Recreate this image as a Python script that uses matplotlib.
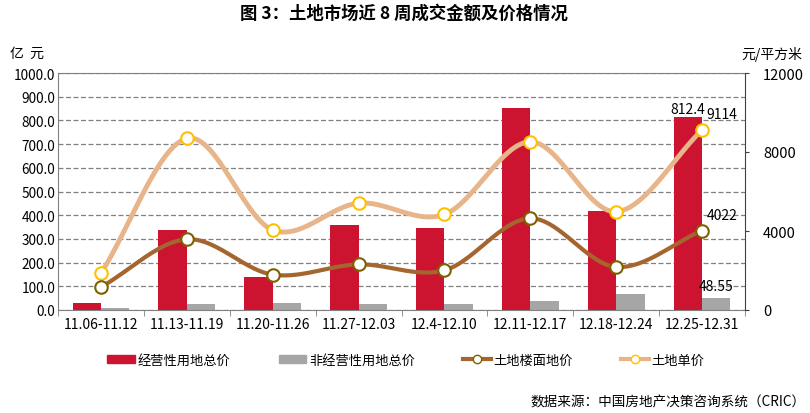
import numpy as np
import matplotlib
matplotlib.use("Agg")
import matplotlib.pyplot as plt
from matplotlib.lines import Line2D
from matplotlib.patches import Patch

plt.rcParams['font.family'] = ['Noto Sans CJK SC', 'DejaVu Sans']

weeks = ['11.06-11.12', '11.13-11.19', '11.20-11.26', '11.27-12.03',
         '12.4-12.10', '12.11-12.17', '12.18-12.24', '12.25-12.31']
# 亿元
commercial_total = [28, 336, 138, 359, 347, 854, 418, 812.4]
noncommercial_total = [7, 24, 30, 24, 25, 38, 66, 48.55]
# 元/平方米
floor_price = [1160, 3580, 1790, 2310, 2010, 4640, 2180, 4022]
unit_price = [1850, 8690, 4050, 5410, 4840, 8520, 4980, 9114]

red = '#CC1430'
grey = '#A6A6A6'
brown = '#A5652E'
tan = '#E8B489'


def smooth(x, y, n=30):
    # catmull-rom style smoothing, only for drawing the curve
    x = np.asarray(x, float)
    y = np.asarray(y, float)
    px = np.concatenate([[2 * x[0] - x[1]], x, [2 * x[-1] - x[-2]]])
    py = np.concatenate([[2 * y[0] - y[1]], y, [2 * y[-1] - y[-2]]])
    xs, ys = [], []
    for i in range(1, len(px) - 2):
        t = np.linspace(0, 1, n)
        for arr, out in ((px, xs), (py, ys)):
            p0, p1, p2, p3 = arr[i - 1], arr[i], arr[i + 1], arr[i + 2]
            out.extend(0.5 * (2 * p1 + (-p0 + p2) * t + (2 * p0 - 5 * p1 + 4 * p2 - p3) * t ** 2
                              + (-p0 + 3 * p1 - 3 * p2 + p3) * t ** 3))
    return np.array(xs), np.array(ys)


fig = plt.figure(figsize=(8.1, 4.14), dpi=100)
ax = fig.add_axes([58 / 810, 1 - 311 / 414, 687 / 810, 237 / 414])
ax2 = ax.twinx()

x = np.arange(len(weeks))
w = 0.33
ax.bar(x - w / 2, commercial_total, w, color=red, zorder=2)
ax.bar(x + w / 2, noncommercial_total, w, color=grey, zorder=2)

ax.set_xlim(-0.5, len(weeks) - 0.5)
ax.set_ylim(0, 1000)
ax.set_yticks(np.arange(0, 1001, 100))
ax.set_yticklabels(['%.1f' % v for v in np.arange(0, 1001, 100)], fontsize=9.8)
ax.yaxis.grid(True, linestyle=(0, (4, 2)), color='#808080', linewidth=0.9)
ax.set_axisbelow(True)
ax.set_xticks(x)
ax.set_xticklabels(weeks, fontsize=10)
ax.set_xticks(np.arange(-0.5, len(weeks)), minor=True)
ax.tick_params(axis='x', which='major', length=0, pad=5)
ax.tick_params(axis='x', which='minor', length=4, color='#808080')
ax.tick_params(axis='y', length=0, pad=2)

for s in ['top', 'left']:
    ax.spines[s].set_linestyle((0, (2, 1)))
    ax.spines[s].set_color('#808080')
ax.spines['bottom'].set_color('#808080')
ax.spines['right'].set_visible(False)
ax2.spines['right'].set_color('#404040')
for s in ['top', 'left', 'bottom']:
    ax2.spines[s].set_visible(False)

sx, sy = smooth(x, unit_price)
ax2.plot(sx, sy, color=tan, linewidth=3.5, solid_capstyle='round', zorder=3)
ax2.plot(x, unit_price, 'o', markersize=9, markerfacecolor='white',
         markeredgecolor='#FFC000', markeredgewidth=1.5, zorder=4)
sx, sy = smooth(x, floor_price)
ax2.plot(sx, sy, color=brown, linewidth=3, solid_capstyle='round', zorder=3)
ax2.plot(x, floor_price, 'o', markersize=9, markerfacecolor='white',
         markeredgecolor='#7F6000', markeredgewidth=1.5, zorder=4)

ax2.set_ylim(0, 12000)
ax2.set_yticks([0, 4000, 8000, 12000])
ax2.set_yticklabels(['0', '4000', '8000', '12000'], fontsize=10.5)
ax2.tick_params(axis='y', length=3, color='#404040', pad=10)

# data labels on the last week
i = len(weeks) - 1
ax.text(x[i] - w / 2, commercial_total[i] + 8, '%.1f' % commercial_total[i],
        ha='center', va='bottom', fontsize=10)
ax.text(x[i] + w / 2, noncommercial_total[i] + 25, '%.2f' % noncommercial_total[i],
        ha='center', va='bottom', fontsize=10)
ax2.text(x[i] + 0.05, unit_price[i] + 450, '%d' % unit_price[i],
         ha='left', va='bottom', fontsize=10)
ax2.text(x[i] + 0.05, floor_price[i] + 450, '%d' % floor_price[i],
         ha='left', va='bottom', fontsize=10)

fig.text(404 / 810, 1 - 14 / 414, '图 3：土地市场近 8 周成交金额及价格情况', ha='center', va='center',
         fontsize=12.5, fontweight='bold')
fig.text(27 / 810, 1 - 54 / 414, '亿  元', ha='center', va='center', fontsize=10)
fig.text(772 / 810, 1 - 54 / 414, '元/平方米', ha='center', va='center', fontsize=10)

handles = [
    Patch(color=red),
    Patch(color=grey),
    Line2D([], [], color=brown, linewidth=3, marker='o', markersize=6,
           markerfacecolor='white', markeredgecolor='#7F6000'),
    Line2D([], [], color=tan, linewidth=3, marker='o', markersize=6,
           markerfacecolor='white', markeredgecolor='#FFC000'),
]
labels = ['经营性用地总价', '非经营性用地总价', '土地楼面地价', '土地单价']
fig.legend(handles, labels, loc='center', bbox_to_anchor=(406 / 810, 1 - 361 / 414), ncol=4,
           frameon=False, fontsize=9.5, handlelength=2.1, handleheight=0.55, handletextpad=0.2,
           columnspacing=3.65)

fig.text(806 / 810, 1 - 402 / 414, '数据来源：中国房地产决策咨询系统（CRIC）', ha='right', va='center',
         fontsize=9.8)

fig.savefig('out.png', dpi=100)
